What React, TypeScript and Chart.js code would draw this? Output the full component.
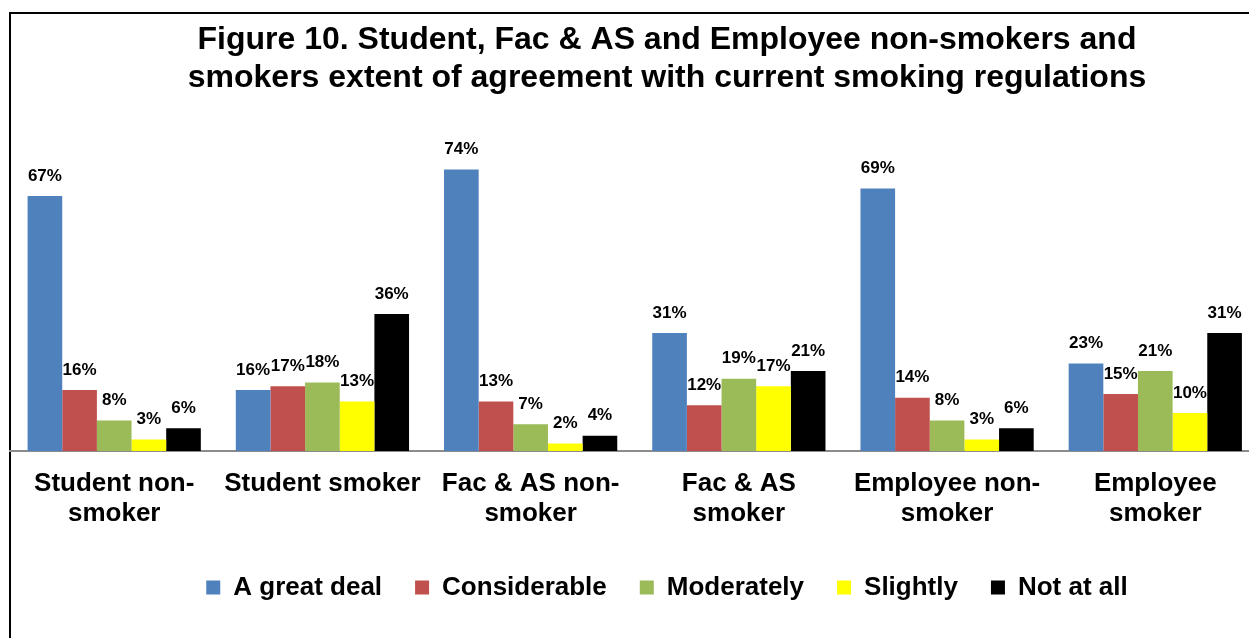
import React, { useEffect, useRef } from "react";
import { Chart, registerables } from "chart.js";

Chart.register(...registerables);

const FONT = "'Liberation Sans', Arial, Helvetica, sans-serif";

const titleLines = [
  "Figure 10. Student, Fac & AS and Employee non-smokers and",
  "smokers extent of agreement with current smoking regulations",
];

const categories = [
  ["Student non-", "smoker"],
  ["Student smoker"],
  ["Fac & AS non-", "smoker"],
  ["Fac & AS", "smoker"],
  ["Employee non-", "smoker"],
  ["Employee", "smoker"],
];

const seriesNames = ["A great deal", "Considerable", "Moderately", "Slightly", "Not at all"];
const seriesColors = ["#4F81BD", "#C0504D", "#9BBB59", "#FFFF00", "#000000"];

const greatDeal = [67, 16, 74, 31, 69, 23];
const considerable = [16, 17, 13, 12, 14, 15];
const moderately = [8, 18, 7, 19, 8, 21];
const slightly = [3, 13, 2, 17, 3, 10];
const notAtAll = [6, 36, 4, 21, 6, 31];

const seriesValues = [greatDeal, considerable, moderately, slightly, notAtAll];

const CANVAS_W = 1340;
const CANVAS_H = 638;

// Black frame along the top and left edges of the figure
const framePlugin = {
  id: "frame",
  beforeDraw(chart: any) {
    const ctx = chart.ctx;
    ctx.save();
    ctx.fillStyle = "#ffffff";
    ctx.fillRect(0, 0, chart.width, chart.height);
    ctx.fillStyle = "#000000";
    ctx.fillRect(9, 12, 2, chart.height - 12);
    ctx.fillRect(9, 12, chart.width - 9, 2);
    ctx.restore();
  },
};

// Percentage labels above each bar
const valueLabelPlugin = {
  id: "valueLabels",
  afterDatasetsDraw(chart: any) {
    const ctx = chart.ctx;
    ctx.save();
    ctx.font = `bold 17px ${FONT}`;
    ctx.fillStyle = "#000000";
    ctx.textAlign = "center";
    ctx.textBaseline = "middle";
    chart.data.datasets.forEach((ds: any, i: number) => {
      const meta = chart.getDatasetMeta(i);
      meta.data.forEach((bar: any, j: number) => {
        ctx.fillText(`${ds.data[j]}%`, bar.x, bar.y - 20);
      });
    });
    ctx.restore();
  },
};

export default function App() {
  const canvasRef = useRef<HTMLCanvasElement | null>(null);

  useEffect(() => {
    if (!canvasRef.current) return;
    const chart = new Chart(canvasRef.current, {
      type: "bar",
      data: {
        labels: categories,
        datasets: seriesNames.map((name, i) => ({
          label: name,
          data: seriesValues[i],
          backgroundColor: seriesColors[i],
          borderWidth: 0,
          categoryPercentage: 0.832,
          barPercentage: 1,
        })),
      },
      options: {
        responsive: false,
        animation: false,
        devicePixelRatio: 1,
        layout: { padding: { top: 0, left: 10.1, right: 16.1, bottom: 27.5 } },
        scales: {
          x: {
            grid: { display: false, drawTicks: false },
            border: { display: true, color: "#8c8c8c", width: 2 },
            ticks: {
              color: "#000000",
              padding: 17,
              maxRotation: 0,
              autoSkip: false,
              font: { family: FONT, size: 26, weight: "bold", lineHeight: 1.18 },
            },
            afterFit(scale: any) {
              scale.height = 90.5;
            },
          },
          y: {
            display: false,
            min: 0,
            max: 91,
          },
          yr: {
            type: "linear",
            position: "right",
            display: true,
            grid: { display: false, drawTicks: false },
            border: { display: false },
            ticks: { display: false },
            afterFit(scale: any) {
              scale.width = 64.5;
            },
          },
        },
        plugins: {
          title: {
            display: true,
            text: titleLines,
            color: "#000000",
            font: { family: FONT, size: 32, weight: "bold", lineHeight: 1.2 },
            padding: { top: 21, bottom: 6.9 },
          },
          legend: {
            display: true,
            position: "bottom",
            labels: {
              color: "#000000",
              boxWidth: 14,
              boxHeight: 14,
              padding: 33,
              font: { family: FONT, size: 26, weight: "bold", lineHeight: 1.2 },
            },
          },
          tooltip: { enabled: false },
        },
      },
      plugins: [framePlugin, valueLabelPlugin],
    } as any);
    return () => chart.destroy();
  }, []);

  return (
    <div
      style={{
        position: "fixed",
        left: 0,
        top: 0,
        width: 1249,
        height: 638,
        overflow: "hidden",
        background: "#ffffff",
      }}
    >
      <canvas
        ref={canvasRef}
        width={CANVAS_W}
        height={CANVAS_H}
        style={{ display: "block", width: CANVAS_W, height: CANVAS_H }}
      />
    </div>
  );
}
